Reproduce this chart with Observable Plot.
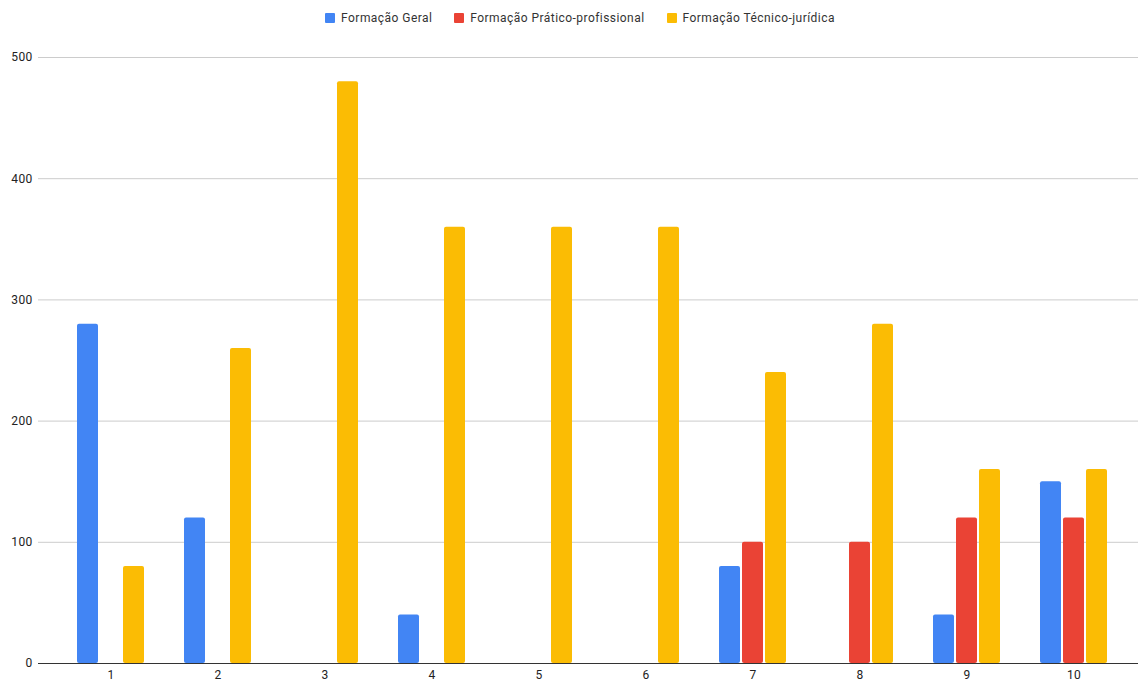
<!DOCTYPE html>
<html>
<head>
<meta charset="utf-8">
<script src="https://cdn.jsdelivr.net/npm/d3@7"></script>
<script src="https://cdn.jsdelivr.net/npm/@observablehq/plot@0.6"></script>
<style>
  html, body { margin: 0; padding: 0; background: #fff; }
  body { width: 1138px; height: 683px; overflow: hidden; font-family: Roboto, "Noto Sans", sans-serif; }
  #legend { height: 35px; display: flex; align-items: center; justify-content: center; padding-left: 22px; box-sizing: border-box; font-size: 12px; color: #333; letter-spacing: 0.45px; }
  .item { display: flex; align-items: center; margin: 0 11px; }
  .sw { width: 10px; height: 10px; margin-right: 6px; border-radius: 1px; }
  svg { display: block; }
  svg text { letter-spacing: 0.3px; }
</style>
</head>
<body>
<div id="legend"></div>
<div id="chart"></div>
<script>
const categories = ["1", "2", "3", "4", "5", "6", "7", "8", "9", "10"];
const seriesNames = ["Formação Geral", "Formação Prático-profissional", "Formação Técnico-jurídica"];
const seriesColors = ["#4285F4", "#EA4335", "#FBBC04"];
const geral =   [280, 120, null, 40, null, null, 80, null, 40, 150];
const pratico = [null, null, null, null, null, null, 100, 100, 120, 120];
const tecnico = [80, 260, 480, 360, 360, 360, 240, 280, 160, 160];
const yTicks = [0, 100, 200, 300, 400, 500];

const seriesValues = [geral, pratico, tecnico];
const rows = [];
seriesNames.forEach((s, si) => {
  categories.forEach((c, ci) => {
    const v = seriesValues[si][ci];
    if (v != null) rows.push({category: c, series: s, value: v});
  });
});

// legend
const legend = document.getElementById("legend");
seriesNames.forEach((s, i) => {
  const it = document.createElement("div");
  it.className = "item";
  const sw = document.createElement("div");
  sw.className = "sw";
  sw.style.background = seriesColors[i];
  const t = document.createElement("span");
  t.textContent = s;
  it.appendChild(sw); it.appendChild(t);
  legend.appendChild(it);
});

const barW = 21;
const stride = 23;
const bandW = 107;
const inset = (bandW - barW) / 2;

const marks = [
  Plot.ruleY(yTicks.filter(d => d > 0), {stroke: "#cccccc", strokeWidth: 1}),
];
seriesNames.forEach((s, i) => {
  marks.push(Plot.barY(rows.filter(r => r.series === s), {
    x: "category", y: "value", fill: seriesColors[i],
    dx: (i - 1) * stride, insetLeft: inset, insetRight: inset, rx: 2
  }));
});
marks.push(Plot.ruleY([0], {stroke: "#333333", strokeWidth: 1.2}));

const chart = Plot.plot({
  width: 1138,
  height: 648,
  marginTop: 22,
  marginBottom: 20,
  marginLeft: 38,
  marginRight: 0,
  style: {fontFamily: "Roboto, 'Noto Sans', sans-serif", fontSize: "12px", color: "#222", background: "#fff"},
  x: {domain: categories, padding: 0, insetLeft: 18.5, insetRight: 11.5, tickSize: 0, tickPadding: 7, label: null},
  y: {domain: [0, 500], ticks: yTicks, tickSize: 0, tickPadding: 6, label: null},
  marks
});
document.getElementById("chart").appendChild(chart);
</script>
</body>
</html>
